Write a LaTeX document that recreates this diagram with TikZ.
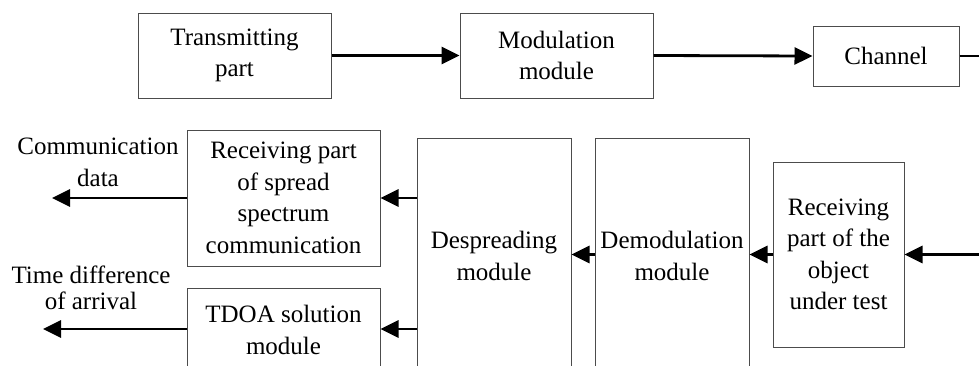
\documentclass[tikz,border=0pt]{standalone}
\usepackage{fontspec}
\setmainfont{Liberation Serif}
\usetikzlibrary{arrows.meta}
\tikzset{
  blk/.style={draw=black!70, line width=1pt, align=center, inner sep=0pt,
    font=\fontsize{25}{31.5}\selectfont},
  arr/.style={line width=2.8pt, -{Triangle[length=18pt,width=17pt]}},
  ln/.style={line width=2.8pt},
  lbl/.style={align=center, inner sep=0pt, font=\fontsize{25}{32}\selectfont}
}
\begin{document}
\begin{tikzpicture}[x=1pt,y=-1pt]
\clip (0,0) rectangle (979,365);
\node[blk, minimum width=193pt, minimum height=85pt] (tx) at (234.5,55.5) {Transmitting\\part};
\node[blk, minimum width=193pt, minimum height=85pt] (mod) at (556.5,55.5) {Modulation\\module};
\node[blk, minimum width=146pt, minimum height=60pt] (ch) at (886,56) {Channel};
\node[blk, minimum width=193pt, minimum height=136pt] (rsp) at (283.5,198) {Receiving part\\of spread\\spectrum\\communication};
\node[blk, minimum width=193pt, minimum height=84pt] (tdoa) at (283.5,330) {TDOA solution\\module};
\node[blk, minimum width=154pt, minimum height=236pt] (desp) at (494,256) {Despreading\\module};
\node[blk, minimum width=154pt, minimum height=236pt] (demod) at (672,256) {Demodulation\\module};
\node[blk, minimum width=131pt, minimum height=185pt] (robj) at (838.5,254.5) {Receiving\\part of the\\object\\under test};
\node[lbl] (cd) at (98,162) {Communication\\data};
\node[lbl, font=\fontsize{25}{26}\selectfont] (td) at (91,288) {Time difference\\of arrival};
\coordinate (chout) at (979,56);
\coordinate (rin) at (979,254.5);
\coordinate (cdout) at (52,198);
\coordinate (tdout) at (43,329);
\draw[arr] (tx.east) -- (mod.west);
\draw[arr] (mod.east) -- (ch.west);
\draw[ln] (ch.east) -- (chout);
\draw[arr] (rin) -- (robj.east);
\draw[arr] (robj.west) -- (demod.east |- robj.west);
\draw[arr] (demod.west |- robj.west) -- (desp.east |- robj.west);
\draw[arr] (desp.west |- rsp.east) -- (rsp.east);
\draw[arr] (desp.west |- tdout) -- (tdoa.east |- tdout);
\draw[arr] (rsp.west) -- (cdout);
\draw[arr] (tdoa.west |- tdout) -- (tdout);
\end{tikzpicture}
\end{document}
